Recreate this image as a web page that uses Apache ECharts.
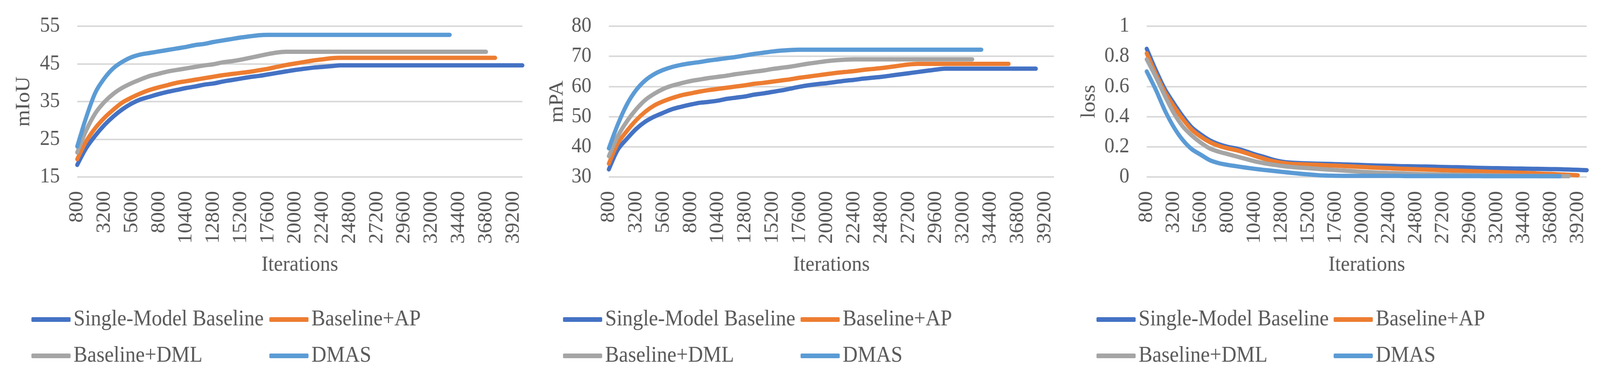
<!DOCTYPE html>
<html>
<head>
<meta charset="utf-8">
<script src="https://cdn.jsdelivr.net/npm/echarts@6/dist/echarts.min.js"></script>
<style>
  html, body { margin: 0; padding: 0; background: #ffffff; overflow: hidden; width: 100%; height: 100%; }
  #chart { width: 4331px; height: 960px; transform-origin: 0 0; position: absolute; left: 0; top: 0; }
</style>
</head>
<body>
<div id="chart"></div>
<script>
// ---------- DATA ----------
const iterations = ['800','1600','2400','3200','4000','4800','5600','6400','7200','8000',
  '8800','9600','10400','11200','12000','12800','13600','14400','15200','16000',
  '16800','17600','18400','19200','20000','20800','21600','22400','23200','24000',
  '24800','25600','26400','27200','28000','28800','29600','30400','31200','32000',
  '32800','33600','34400','35200','36000','36800','37600','38400','39200','40000'];

const seriesNames = ['Single-Model Baseline', 'Baseline+AP', 'Baseline+DML', 'DMAS'];

// mIoU
const miouSingle = [18.2,22.7,26.0,28.8,31.1,33.0,34.5,35.6,36.3,37.0,37.6,38.1,38.6,39.0,39.5,39.8,40.3,40.7,41.1,41.5,
  41.8,42.2,42.6,43.0,43.4,43.7,44.0,44.2,44.4,44.6,44.6,44.6,44.6,44.6,44.6,44.6,44.6,44.6,44.6,44.6,
  44.6,44.6,44.6,44.6,44.6,44.6,44.6,44.6,44.6,44.6];
const miouAP = [19.7,24.5,28.0,30.7,32.9,34.8,36.1,37.2,38.1,38.8,39.4,40.0,40.4,40.8,41.2,41.6,42.0,42.3,42.6,42.9,
  43.3,43.7,44.2,44.7,45.1,45.5,45.9,46.2,46.5,46.6,46.6,46.6,46.6,46.6,46.6,46.6,46.6,46.6,46.6,46.6,
  46.6,46.6,46.6,46.6,46.6,46.6,46.6];
const miouDML = [21.5,27.4,31.9,34.9,37.1,38.7,39.9,40.9,41.8,42.4,43.0,43.4,43.8,44.2,44.6,44.9,45.4,45.7,46.1,46.6,
  47.1,47.6,48.0,48.2,48.2,48.2,48.2,48.2,48.2,48.2,48.2,48.2,48.2,48.2,48.2,48.2,48.2,48.2,48.2,48.2,
  48.2,48.2,48.2,48.2,48.2,48.2];
const miouDMAS = [23.1,30.9,37.4,41.2,43.9,45.6,46.8,47.5,47.9,48.3,48.7,49.1,49.5,50.0,50.3,50.8,51.2,51.6,52.0,52.3,
  52.6,52.7,52.7,52.7,52.7,52.7,52.7,52.7,52.7,52.7,52.7,52.7,52.7,52.7,52.7,52.7,52.7,52.7,52.7,52.7,
  52.7,52.7];

// mPA
const mpaSingle = [32.5,39.1,42.7,45.9,48.3,50.0,51.3,52.5,53.3,54.0,54.6,54.9,55.3,55.9,56.3,56.7,57.3,57.7,58.2,58.7,
  59.3,59.9,60.4,60.8,61.1,61.5,61.9,62.2,62.6,62.9,63.2,63.6,64.0,64.4,64.8,65.2,65.6,65.9,65.9,65.9,
  65.9,65.9,65.9,65.9,65.9,65.9,65.9,65.9];
const mpaAP = [34.4,41.2,45.3,48.8,51.6,53.7,55.1,56.2,57.1,57.7,58.3,58.8,59.2,59.6,60.0,60.4,60.9,61.2,61.6,62.0,
  62.4,62.9,63.3,63.7,64.1,64.5,64.8,65.1,65.5,65.8,66.1,66.5,66.9,67.3,67.5,67.5,67.5,67.5,67.5,67.5,
  67.5,67.5,67.5,67.5,67.5];
const mpaDML = [36.9,43.6,48.5,52.4,55.5,57.6,59.2,60.3,61.1,61.8,62.3,62.8,63.2,63.6,64.1,64.5,64.9,65.3,65.8,66.2,
  66.6,67.1,67.6,68.0,68.4,68.7,68.9,69.0,69.0,69.0,69.0,69.0,69.0,69.0,69.0,69.0,69.0,69.0,69.0,69.0,
  69.0];
const mpaDMAS = [39.5,47.5,54.1,58.8,62.0,64.1,65.5,66.5,67.2,67.7,68.1,68.6,69.0,69.4,69.8,70.3,70.8,71.2,71.6,71.9,
  72.1,72.2,72.2,72.2,72.2,72.2,72.2,72.2,72.2,72.2,72.2,72.2,72.2,72.2,72.2,72.2,72.2,72.2,72.2,72.2,
  72.2,72.2];

// loss
const lossSingle = [0.85,0.71,0.585,0.49,0.403,0.33,0.283,0.244,0.218,0.20,0.188,0.171,0.151,0.134,0.115,0.102,0.095,0.092,0.090,0.088,
  0.087,0.085,0.083,0.081,0.079,0.077,0.075,0.074,0.072,0.071,0.070,0.069,0.068,0.066,0.065,0.064,0.062,0.060,0.059,0.058,
  0.057,0.056,0.055,0.054,0.053,0.052,0.051,0.049,0.047,0.045];
const lossAP = [0.82,0.685,0.565,0.47,0.385,0.315,0.268,0.232,0.207,0.19,0.177,0.16,0.14,0.122,0.105,0.094,0.087,0.084,0.082,0.080,
  0.077,0.075,0.072,0.069,0.066,0.063,0.060,0.058,0.055,0.053,0.051,0.049,0.047,0.045,0.043,0.041,0.039,0.037,0.035,0.033,
  0.031,0.029,0.027,0.025,0.022,0.020,0.017,0.014,0.011];
const lossDML = [0.78,0.665,0.54,0.425,0.336,0.276,0.228,0.19,0.168,0.152,0.136,0.12,0.104,0.092,0.082,0.074,0.067,0.062,0.058,0.054,
  0.050,0.046,0.042,0.038,0.034,0.031,0.028,0.026,0.024,0.022,0.020,0.018,0.017,0.016,0.015,0.014,0.013,0.012,0.011,0.010,
  0.009,0.008,0.007,0.007,0.006,0.006,0.005,0.005];
const lossDMAS = [0.70,0.58,0.444,0.332,0.246,0.185,0.148,0.112,0.092,0.080,0.071,0.062,0.054,0.047,0.041,0.034,0.028,0.022,0.017,0.012,
  0.009,0.008,0.007,0.007,0.007,0.007,0.007,0.007,0.007,0.006,0.006,0.006,0.006,0.006,0.006,0.006,0.006,0.006,0.005,0.005,
  0.005,0.005,0.005,0.005,0.005,0.005,0.005];

const yTicksMiou = [15, 25, 35, 45, 55];

// ---------- STYLE / LAYOUT (designed at 4331x960, fitted to the viewport) ----------
const colors = ['#4472C4', '#ED7D31', '#A5A5A5', '#5B9BD5'];
const FONT = "'Liberation Serif', 'Times New Roman', serif";
const TEXT = '#595959';
const GRID_COLOR = '#D9D9D9';

const el = document.getElementById('chart');
const vw = window.innerWidth || document.documentElement.clientWidth || 4331;
const vh = window.innerHeight || document.documentElement.clientHeight || 960;
el.style.transform = 'scale(' + (vw / 4331) + ',' + (vh / 960) + ')';

const panels = [
  { name: 'mIoU', data: [miouSingle, miouAP, miouDML, miouDMAS], min: 15, max: 55, custom: yTicksMiou,
    grid: [209, 67, 1205, 386], nameGap: 117, legendCols: [85, 729] },
  { name: 'mPA', data: [mpaSingle, mpaAP, mpaDML, mpaDMAS], min: 30, max: 80, interval: 10,
    grid: [1648, 67, 1205, 386], nameGap: 112, legendCols: [1524, 2167] },
  { name: 'loss', data: [lossSingle, lossAP, lossDML, lossDMAS], min: 0, max: 1, interval: 0.2,
    grid: [3104, 67, 1191, 386], nameGap: 128, legendCols: [2968, 3610] }
];

const option = {
  animation: false,
  backgroundColor: '#ffffff',
  textStyle: { fontFamily: FONT, color: TEXT },
  grid: [], xAxis: [], yAxis: [], series: [], legend: []
};

panels.forEach((p, k) => {
  option.grid.push({ left: p.grid[0], top: p.grid[1], width: p.grid[2], height: p.grid[3], containLabel: false });
  option.xAxis.push({
    type: 'category', gridIndex: k, data: iterations, boundaryGap: false,
    name: 'Iterations', nameLocation: 'middle', nameGap: 198,
    nameTextStyle: { fontFamily: FONT, fontSize: 55, color: TEXT },
    axisLine: { show: false }, axisTick: { show: false },
    axisLabel: { interval: 2, rotate: 90, margin: 36, fontFamily: FONT, fontSize: 54, color: TEXT },
    splitLine: { show: false }
  });
  const y = {
    type: 'value', gridIndex: k, min: p.min, max: p.max,
    name: p.name, nameLocation: 'middle', nameGap: p.nameGap,
    nameTextStyle: { fontFamily: FONT, fontSize: 55, color: TEXT },
    axisLine: { show: false },
    axisLabel: { margin: 47, fontFamily: FONT, fontSize: 54, color: TEXT },
    splitLine: { show: true, lineStyle: { color: GRID_COLOR, width: 4 } }
  };
  if (p.custom) {
    y.axisTick = { show: false, customValues: p.custom };
    y.axisLabel.customValues = p.custom;
  } else {
    y.interval = p.interval;
    y.axisTick = { show: false };
  }
  option.yAxis.push(y);
  p.data.forEach((arr, si) => {
    option.series.push({
      name: seriesNames[si], type: 'line', xAxisIndex: k, yAxisIndex: k,
      data: arr, symbol: 'none', smooth: 0.3,
      lineStyle: { color: colors[si], width: 11, cap: 'round', join: 'round' },
      itemStyle: { color: colors[si] }
    });
  });
  [[seriesNames[0], seriesNames[2]], [seriesNames[1], seriesNames[3]]].forEach((names, c) => {
    option.legend.push({
      data: names, orient: 'vertical', left: p.legendCols[c], top: 790,
      itemWidth: 106, itemHeight: 12, itemGap: 37, icon: 'roundRect',
      selectedMode: false, padding: 0,
      textStyle: { fontFamily: FONT, fontSize: 56, color: TEXT, padding: [0, 0, 0, 3] }
    });
  });
});

const chart = echarts.init(el, null, { renderer: 'canvas', width: 4331, height: 960 });
chart.setOption(option);
</script>
</body>
</html>
